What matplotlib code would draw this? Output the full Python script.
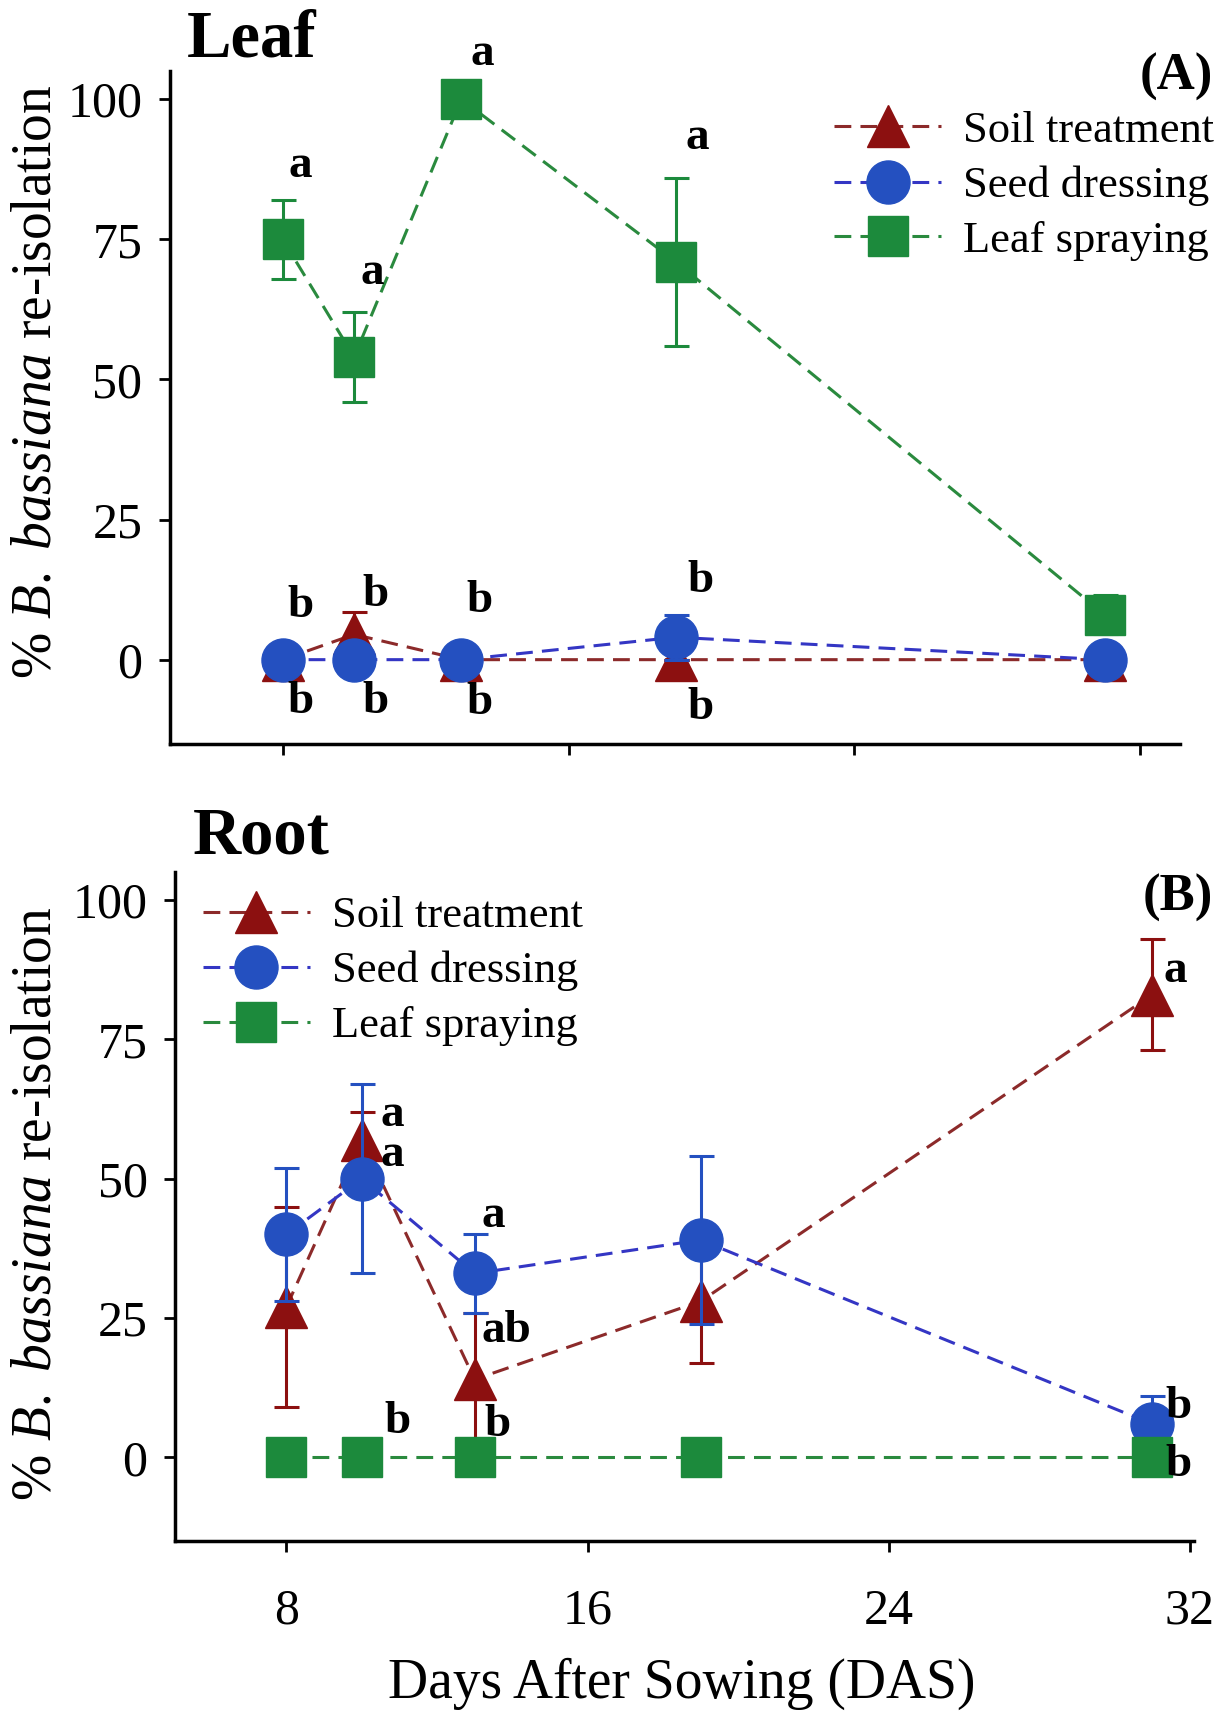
import matplotlib
matplotlib.use('Agg')
import matplotlib.pyplot as plt
from matplotlib.lines import Line2D

plt.rcParams['font.family'] = ['Liberation Serif', 'DejaVu Serif']
plt.rcParams['mathtext.fontset'] = 'custom'
plt.rcParams['mathtext.it'] = 'Liberation Serif:italic'
plt.rcParams['mathtext.rm'] = 'Liberation Serif'

# data
days = [8, 10, 13, 19, 31]
series = ['Soil treatment', 'Seed dressing', 'Leaf spraying']

leaf_soil = [0, 4.5, 0, 0, 0]
leaf_soil_err = [0, 4, 0, 0, 0]
leaf_seed = [0, 0, 0, 4, 0]
leaf_seed_err = [0, 0, 0, 4, 0]
leaf_spray = [75, 54, 100, 71, 8]
leaf_spray_err = [7, 8, 0, 15, 3.5]

root_soil = [27, 57, 14, 28, 83]
root_soil_err = [18, 5, 12, 11, 10]
root_seed = [40, 50, 33, 39, 6]
root_seed_err = [12, 17, 7, 15, 5]
root_spray = [0, 0, 0, 0, 0]
root_spray_err = [0, 0, 0, 0, 0]

# significance letters (text, day, value)
leaf_txt = ['a', 'a', 'a', 'a', 'b', 'b', 'b', 'b', 'b', 'b', 'b', 'b']
leaf_tx = [8.5, 10.5, 13.6, 19.6, 8.5, 10.6, 13.5, 19.7, 8.5, 10.6, 13.5, 19.7]
leaf_ty = [88, 69, 108, 93, 9.5, 11.5, 10.5, 14, -7.5, -7.5, -7.8, -8.6]

root_txt = ['a', 'a', 'a', 'ab', 'b', 'b', 'a', 'b', 'b']
root_tx = [10.8, 10.8, 13.5, 13.85, 13.6, 10.95, 31.6, 31.7, 31.7]
root_ty = [61.5, 54.3, 43.3, 22.6, 5.9, 6.3, 87.2, 9, -1.4]

colors = ['#8c1010', '#2450c0', '#1c8a3c']
lcolors = ['#8c2a2a', '#3436c4', '#2a8a3e']
markers = ['^', 'o', 's']
msizes = [30, 31, 29]

fig = plt.figure(figsize=(12.18, 17.2), dpi=100)
ax1 = fig.add_axes([0.1396, 0.5676, 0.829, 0.391])
ax2 = fig.add_axes([0.144, 0.104, 0.836, 0.389])


def draw(ax, ys, errs, txt, tx, ty, xlim):
    for i in range(3):
        ax.errorbar(days, ys[i], yerr=errs[i], color=lcolors[i], ecolor=colors[i],
                    linestyle=(0, (5.5, 3)), lw=2.2, marker=markers[i], ms=msizes[i],
                    mfc=colors[i], mec=colors[i], elinewidth=2.2, capsize=9,
                    capthick=2.2, zorder=2 + i)
    for t, x, y in zip(txt, tx, ty):
        ax.text(x, y, t, fontsize=34, fontweight='bold', ha='center', va='center',
                clip_on=False, zorder=10)
    ax.set_xlim(*xlim)
    ax.set_ylim(-15, 105)
    ax.set_yticks([0, 25, 50, 75, 100])
    ax.set_xticks([8, 16, 24, 32])
    ax.spines['top'].set_visible(False)
    ax.spines['right'].set_visible(False)
    ax.spines['left'].set_linewidth(2.5)
    ax.spines['bottom'].set_linewidth(2.5)
    ax.tick_params(axis='both', direction='out', length=8, width=2, labelsize=36)
    ax.tick_params(axis='y', pad=12)
    ax.tick_params(axis='x', pad=26)


draw(ax1, [leaf_soil, leaf_seed, leaf_spray], [leaf_soil_err, leaf_seed_err, leaf_spray_err],
     leaf_txt, leaf_tx, leaf_ty, (4.85, 33.1))
draw(ax2, [root_soil, root_seed, root_spray], [root_soil_err, root_seed_err, root_spray_err],
     root_txt, root_tx, root_ty, (5.05, 32.1))
ax1.set_xticklabels([])

handles = [Line2D([], [], color=lcolors[i], linestyle=(0, (5.5, 3)), lw=2.2, marker=markers[i],
                  ms=msizes[i], mfc=colors[i], mec=colors[i]) for i in range(3)]
for ax, anchor in [(ax1, (0.685, 0.9355)), (ax2, (0.1667, 0.479))]:
    ax.legend(handles, series, loc='upper left', bbox_to_anchor=anchor,
              bbox_transform=fig.transFigure, frameon=False, fontsize=32,
              handlelength=2.4, handletextpad=0.5, labelspacing=0.33, borderpad=0,
              borderaxespad=0, numpoints=1)

ylab = r'% $\it{B.\ bassiana}$ re-isolation'
fig.text(0.03, 0.778, ylab, rotation=90, ha='center', va='center', fontsize=40)
fig.text(0.03, 0.30, ylab, rotation=90, ha='center', va='center', fontsize=40)
fig.text(0.56, 0.021, 'Days After Sowing (DAS)', ha='center', va='center', fontsize=40)

fig.text(0.153, 0.967, 'Leaf', fontsize=48, fontweight='bold', va='baseline')
fig.text(0.158, 0.504, 'Root', fontsize=48, fontweight='bold', va='baseline')
fig.text(0.996, 0.955, '(A)', fontsize=38, fontweight='bold', ha='right', va='center')
fig.text(0.996, 0.478, '(B)', fontsize=38, fontweight='bold', ha='right', va='center')

fig.savefig('out.png', dpi=100)
